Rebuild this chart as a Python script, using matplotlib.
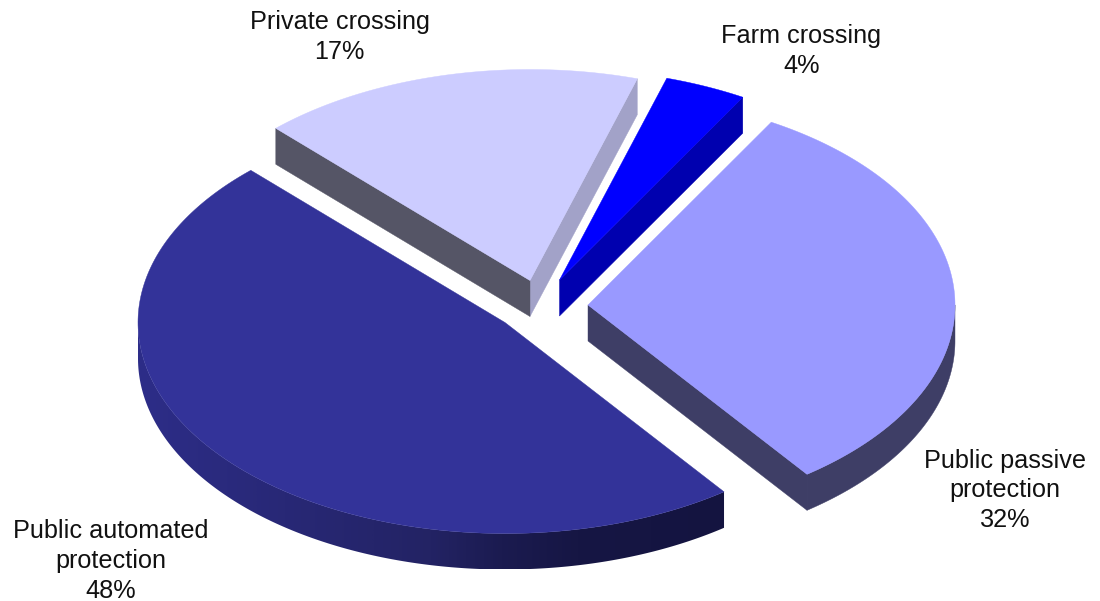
import numpy as np
import matplotlib
matplotlib.use("Agg")
import matplotlib.pyplot as plt
from matplotlib.patches import Polygon
from matplotlib.colors import LinearSegmentedColormap

# --- data (slice sizes; the labels show them rounded) ---
categories = ["Farm crossing", "Public passive\nprotection",
              "Public automated\nprotection", "Private crossing"]
shares = [3.6, 31.5, 48.0, 16.9]

# --- styles and layout (pixels of the reference) ---
top_colors = ["#0000FF", "#9999FF", "#333399", "#CCCCFF"]
apexes = [(559.5, 280), (588, 305), (505, 322.5), (530, 280.5)]
label_xy = [(801.5, 51), (1005, 490.5), (111, 561), (339.5, 37)]
wall_last_edge = ["#0000AF", "#3E3E66", None, "#A2A2C8"]   # edge at the slice's closing angle
wall_first_edge = [None, None, None, "#555566"]            # edge at the slice's opening angle
rim_colors = [None, "#3E3E66", None, None]
A, B, DEPTH = 367.0, 211.0, 36.0
START = 17.0
rim_cmap = LinearSegmentedColormap.from_list(
    "rim", [(0.0, "#2D2D88"), (0.5, "#232364"), (0.62, "#1B1B50"), (0.75, "#161644"), (1.0, "#141440")])

fig = plt.figure(figsize=(11.0, 6.01), dpi=100)
ax = fig.add_axes([0, 0, 1, 1])
ax.axis("off")


def point(apex, deg):
    r = np.radians(deg)
    return np.array([apex[0] + A * np.sin(r), apex[1] - B * np.cos(r)])


def fill(pts, color, z):
    ax.add_patch(Polygon(pts, closed=True, facecolor=color, edgecolor=color,
                         linewidth=0.3, zorder=z, joinstyle="round"))


def edge_wall(apex, deg, color):
    corner = point(apex, deg)
    a = np.array(apex)
    d = np.array([0, DEPTH])
    fill([a, corner, corner + d, a + d], color, 1)


angle = START
for i, share in enumerate(shares):
    sweep = 360.0 * share / sum(shares)
    a0, a1 = angle, angle + sweep
    angle = a1
    apex = apexes[i]

    if wall_last_edge[i]:
        edge_wall(apex, a1, wall_last_edge[i])
    if wall_first_edge[i]:
        edge_wall(apex, a0, wall_first_edge[i])

    # outer rim: only the part facing the viewer (90..270 degrees)
    lo, hi = max(a0, 90.0), min(a1, 270.0)
    if hi > lo:
        arc = np.array([point(apex, t) for t in np.linspace(lo, hi, 240)])
        outline = np.vstack([arc, (arc + [0, DEPTH])[::-1]])
        if rim_colors[i]:
            fill(outline, rim_colors[i], 1)
        else:
            x0, x1 = outline[:, 0].min(), outline[:, 0].max()
            y0, y1 = outline[:, 1].min(), outline[:, 1].max()
            img = ax.imshow(np.linspace(0, 1, 512)[None, :], cmap=rim_cmap,
                            extent=(x0, x1, y1, y0), aspect="auto", zorder=1,
                            interpolation="bilinear")
            clip = Polygon(outline, closed=True, transform=ax.transData)
            img.set_clip_path(clip)

    # top face
    arc = np.array([point(apex, t) for t in np.linspace(a0, a1, 200)])
    fill(np.vstack([[apex], arc]), top_colors[i], 2)

    ax.text(label_xy[i][0], label_xy[i][1], f"{categories[i]}\n{share:.0f}%",
            ha="center", va="center", multialignment="center",
            family="Liberation Sans", fontsize=18.2, color="#111111",
            linespacing=1.3, zorder=3)

ax.set_xlim(0, 1100)
ax.set_ylim(601, 0)

fig.savefig("out.png", dpi=100, facecolor="white")
